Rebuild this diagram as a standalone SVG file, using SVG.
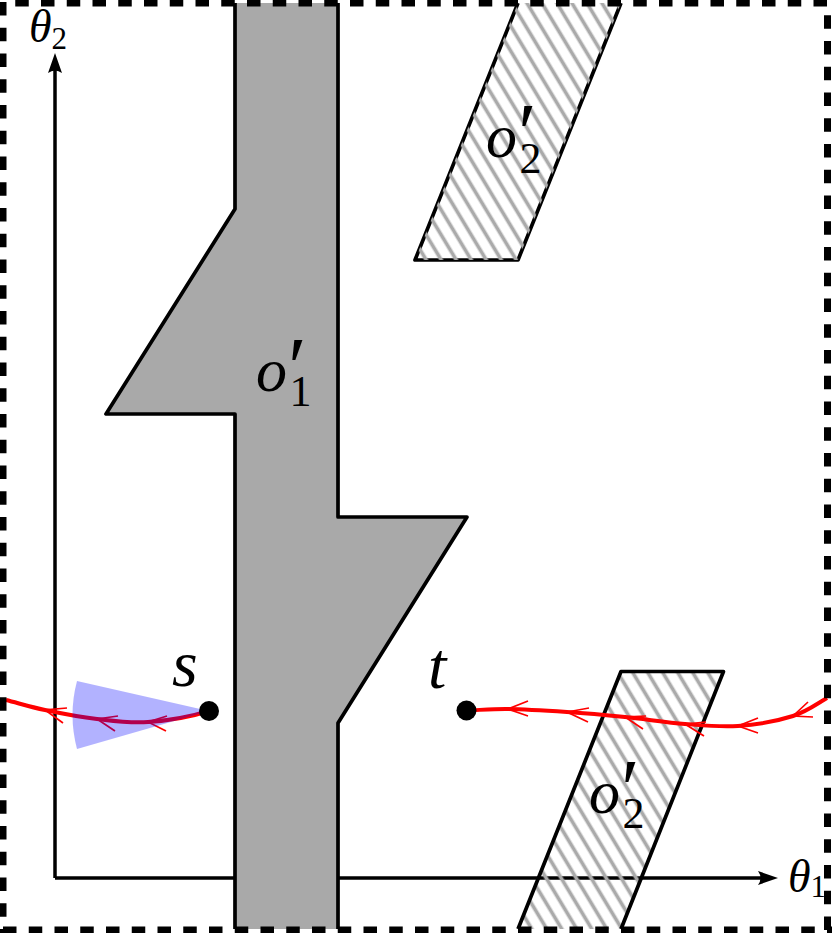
<svg xmlns="http://www.w3.org/2000/svg" width="832" height="933" viewBox="0 0 832 933">
<style>
.ax{fill:none;stroke:#000;stroke-width:3.5}
.ln{fill:none;stroke:#000;stroke-width:3.7;stroke-linejoin:round}
.bd{fill:none;stroke:#000;stroke-width:7;stroke-dasharray:13.5 12.25}
.cv{fill:none;stroke:#f00;stroke-width:4}
.ah{fill:none;stroke:#f00;stroke-width:1.7}
text{font-family:"Liberation Serif","Times New Roman",serif;font-style:italic;fill:#000}
.sub{font-style:normal}
</style>
<defs>
<pattern id="hatchA" patternUnits="userSpaceOnUse" width="12.86" height="12.86" patternTransform="translate(7.500 0) rotate(59)"><line x1="-1" y1="6.430" x2="14" y2="6.430" stroke="#aaa" stroke-width="3.700"/></pattern>
<pattern id="hatchB" patternUnits="userSpaceOnUse" width="12.86" height="12.86" patternTransform="translate(11.100 0) rotate(59)"><line x1="-1" y1="6.430" x2="14" y2="6.430" stroke="#aaa" stroke-width="3.700"/></pattern>
<marker id="arr" viewBox="0 0 22 16" refX="12" refY="8" markerWidth="22" markerHeight="16" markerUnits="userSpaceOnUse" orient="auto"><path d="M0 1L20 8L0 15Q5 8 0 1Z" fill="#000"/></marker>
</defs>
<rect width="832" height="933" fill="#fff"/>
<g id="axes">
<path class="ax" d="M55 878V61" marker-end="url(#arr)"/>
<path class="ax" d="M55 878H770" marker-end="url(#arr)"/>
<text x="29" y="42" font-size="46">θ<tspan class="sub" font-size="31" dy="7">2</tspan></text>
<text x="788" y="892" font-size="46">θ<tspan class="sub" font-size="31" dy="5">1</tspan></text>
</g>
<g id="o1">
<polygon fill="#a9a9a9" points="235,3 338,3 338,517 467,517 338,723 338,929 235,929 235,414 106,414 235,209"/>
<path class="ln" d="M235 3V209L106 414H235V929M338 3V517H467L338 723V929"/>
<text x="256" y="391" font-size="62">o<tspan font-size="84" dy="5" dx="-4">′</tspan><tspan class="sub" font-size="44" dy="10" dx="-12">1</tspan></text>
</g>
<g id="o2-top">
<path class="ln" d="M518 3L415 260H518L621 3"/>
<polygon fill="url(#hatchA)" points="518,3 621,3 518,260 415,260"/>
<text x="486" y="157" font-size="62">o<tspan font-size="84" dy="5" dx="-4">′</tspan><tspan class="sub" font-size="44" dy="11" dx="-12">2</tspan></text>
</g>
<g id="o2-bottom">
<polygon fill="url(#hatchB)" points="621,671 723,671 621,929 518,929"/>
<path class="ln" d="M518 929L621 671.500H723.500L621 929"/>
<text x="589" y="813" font-size="62">o<tspan font-size="84" dy="5" dx="-4">′</tspan><tspan class="sub" font-size="44" dy="10" dx="-12">2</tspan></text>
</g>
<g id="connectors">
<path class="cv" d="M6 700C18 703 29.800 706.800 45 710C60.200 713.200 79.800 717 97 719C114.200 721 129.300 723.300 148 722C166.700 720.700 190 717 209 711"/>
<path class="ah" d="M67 708L45 710L63 723M118 716L97 719L115 731M167 716L148 722L166 731"/>
<path class="cv" d="M827 698C815 705 808 711 793 716C778.200 720.700 756 724.700 738 726C720 727.300 703.800 725.500 685 724C666.200 722.500 644.700 719 625 717C605.300 715 586.500 713.300 567 712C547.500 710.700 524.700 709.250 508 709C495 708.750 480 710 467 710.500"/>
<path class="ah" d="M528 701L508 709L528 716M589 708L567 712L588 722M646 716L625 717L643 729M706 722L685 724L704 736M758 718L738 726L758 733M808 702L793 716L813 717"/>
</g>
<g id="fan"><path d="M209 711L77 681Q68 715 77 749Z" fill="#00f" fill-opacity=".3"/></g>
<g id="s">
<circle cx="209" cy="711" r="10"/>
<text x="172" y="686" font-size="66">s</text>
</g>
<g id="t">
<circle cx="466.500" cy="710.500" r="10"/>
<text x="428" y="688" font-size="66">t</text>
</g>
<g id="border">
<line class="bd" x1="15.250" y1="3" x2="832" y2="3"/>
<line class="bd" x1="3" y1="2" x2="3" y2="933"/>
<line class="bd" x1="827.500" y1="15.250" x2="827.500" y2="933"/>
<line class="bd" x1="3" y1="930" x2="832" y2="930"/>
</g>
</svg>
